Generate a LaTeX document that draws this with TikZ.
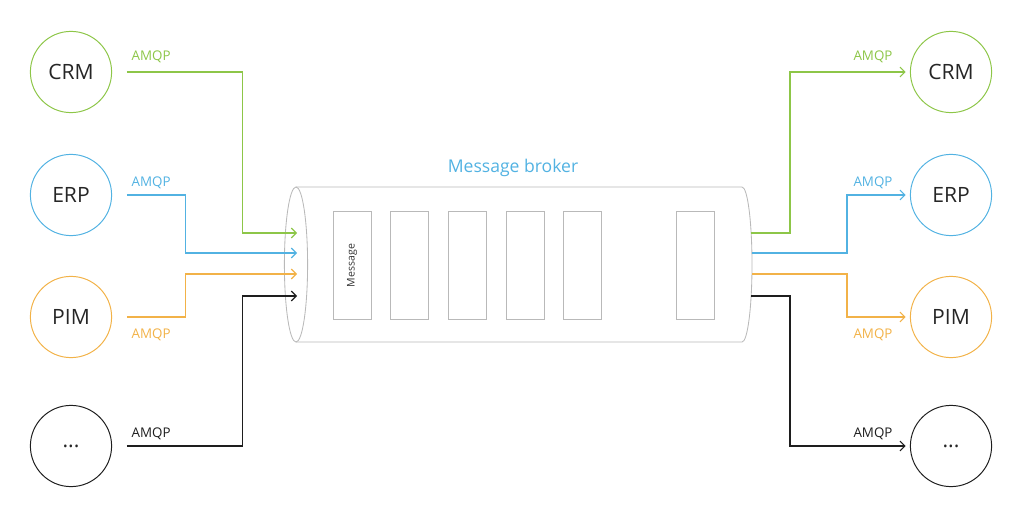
\documentclass[tikz,border=0pt]{standalone}
\usepackage{fontspec}
\setmainfont{Open Sans}
\usepackage{xcolor}
\usepackage{tikz}
\usetikzlibrary{arrows.meta}

\definecolor{amqpgreen}{RGB}{141,198,72}
\definecolor{amqpblue}{RGB}{82,178,226}
\definecolor{amqporange}{RGB}{242,178,72}
\definecolor{amqpblack}{RGB}{30,30,30}
\definecolor{tubegray}{RGB}{185,185,185}

\begin{document}
\begin{tikzpicture}[x=0.025cm, y=-0.025cm,
  sys/.style={circle, draw=#1, line width=0.7pt, minimum size=2.03cm, inner sep=0pt,
              font=\fontsize{15}{18}\selectfont, text=black!85},
  slot/.style={draw=tubegray, line width=0.6pt, minimum width=0.95cm,
               minimum height=2.68cm, inner sep=0pt},
  tube/.style={draw=tubegray, line width=0.6pt},
  link/.style={draw=#1, line width=0.8pt, -{Straight Barb[length=3.5pt,width=7pt]}},
  lbl/.style={font=\fontsize{9.5}{11}\selectfont, text=#1, inner sep=0pt}
]
  \useasboundingbox (0,0) rectangle (1024,518);

  % Broker
  \draw[tube] (296,187) -- (742,187)
    arc[start angle=90, end angle=-90, x radius=0.25cm, y radius=1.9375cm] -- (296,342);
  \draw[tube] (296,264.5) ellipse[x radius=0.29cm, y radius=1.9375cm];
  \node[font=\fontsize{12.5}{15}\selectfont, text=amqpblue, anchor=base] (title) at (513,173) {Message broker};

  \node[slot] (msg1) at (352,265.5) {};
  \node[rotate=90, font=\fontsize{7.5}{9}\selectfont, text=black!80] (msgtext) at (msg1) {Message};
  \node[slot] (msg2) at (409,265.5) {};
  \node[slot] (msg3) at (467,265.5) {};
  \node[slot] (msg4) at (525,265.5) {};
  \node[slot] (msg5) at (582,265.5) {};
  \node[slot] (msg6) at (695.5,265.5) {};

  % Producers
  \node[sys=amqpgreen] (crmL) at (71,72) {CRM};
  \node[sys=amqpblue] (erpL) at (71,195) {ERP};
  \node[sys=amqporange] (pimL) at (71,317) {PIM};
  \node[sys=amqpblack] (etcL) at (71,446) {...};

  % Consumers
  \node[sys=amqpgreen] (crmR) at (951,72) {CRM};
  \node[sys=amqpblue] (erpR) at (951,195) {ERP};
  \node[sys=amqporange] (pimR) at (951,317) {PIM};
  \node[sys=amqpblack] (etcR) at (951,446) {...};

  % Ports on the broker
  \coordinate (in1) at (297,233);
  \coordinate (in2) at (297,253);
  \coordinate (in3) at (297,274);
  \coordinate (in4) at (297,296);
  \coordinate (out1) at (751,233);
  \coordinate (out2) at (752,253);
  \coordinate (out3) at (752,274);
  \coordinate (out4) at (751,296);

  % Incoming
  \draw[link=amqpgreen, shorten <=10.5pt] (crmL.east) --
    node[lbl=amqpgreen, pos=0, anchor=base west, xshift=13.5pt, yshift=8.5pt] {AMQP} ++(130,0) |- (in1);
  \draw[link=amqpblue, shorten <=10.5pt] (erpL.east) --
    node[lbl=amqpblue, pos=0, anchor=base west, xshift=13.5pt, yshift=6.4pt] {AMQP} ++(73,0) |- (in2);
  \draw[link=amqporange, shorten <=10.5pt] (pimL.east) --
    node[lbl=amqporange, pos=0, anchor=base west, xshift=13.5pt, yshift=-15.6pt] {AMQP} ++(73,0) |- (in3);
  \draw[link=amqpblack, shorten <=10.5pt] (etcL.east) --
    node[lbl=amqpblack, pos=0, anchor=base west, xshift=13.5pt, yshift=6.4pt] {AMQP} ++(130,0) |- (in4);

  % Outgoing
  \draw[link=amqpgreen, shorten >=3pt] (out1) -- ++(39,0) |-
    node[lbl=amqpgreen, pos=1, anchor=base east, xshift=-12pt, yshift=8.5pt] {AMQP} (crmR);
  \draw[link=amqpblue, shorten >=3pt] (out2) -- ++(95,0) |-
    node[lbl=amqpblue, pos=1, anchor=base east, xshift=-12pt, yshift=6.4pt] {AMQP} (erpR);
  \draw[link=amqporange, shorten >=3pt] (out3) -- ++(95,0) |-
    node[lbl=amqporange, pos=1, anchor=base east, xshift=-12pt, yshift=-15.6pt] {AMQP} (pimR);
  \draw[link=amqpblack, shorten >=3pt] (out4) -- ++(39,0) |-
    node[lbl=amqpblack, pos=1, anchor=base east, xshift=-12pt, yshift=6.4pt] {AMQP} (etcR);
\end{tikzpicture}
\end{document}
